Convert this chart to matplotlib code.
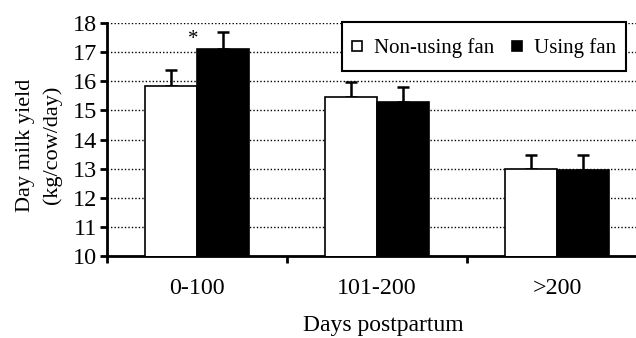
import matplotlib
matplotlib.use("Agg")
import matplotlib.pyplot as plt
from matplotlib.patches import Rectangle
from matplotlib.legend_handler import HandlerPatch
import numpy as np

categories = ["0-100", "101-200", ">200"]
non_fan = [15.82, 15.45, 12.97]
non_fan_err = [0.56, 0.54, 0.50]
fan = [17.11, 15.28, 12.95]
fan_err = [0.58, 0.52, 0.52]
yticks = [10, 11, 12, 13, 14, 15, 16, 17, 18]

plt.rcParams['font.family'] = ['Liberation Serif', 'DejaVu Serif']

fig = plt.figure(figsize=(6.36, 3.38), dpi=100)
ax = fig.add_axes([107/636, 1-256/338, (636-107)/636, (256-23)/338])

x = np.arange(len(categories))
w = 0.289
ekw = dict(elinewidth=1.8, capthick=1.8, capsize=4, ecolor='black')
b1 = ax.bar(x - w/2, non_fan, w, color='white', edgecolor='black', linewidth=1.2,
            label='Non-using fan', zorder=3)
ax.errorbar(x - w/2, non_fan, yerr=[np.zeros(3), non_fan_err], fmt='none', zorder=2, **ekw)
b2 = ax.bar(x + w/2, fan, w, color='black', edgecolor='black', linewidth=1.2,
            label='Using fan', zorder=3)
ax.errorbar(x + w/2, fan, yerr=[np.zeros(3), fan_err], fmt='none', zorder=2, **ekw)

ax.text(x[0] - 0.022, 17.45, '*', ha='center', va='center', fontsize=15)

ax.set_ylim(10, 18)
ax.set_xlim(-0.5, -0.5 + (636-107)/180)
ax.set_yticks(yticks)
ax.set_yticklabels([str(t) for t in yticks], fontsize=17.5)
ax.yaxis.grid(True, linestyle=(0, (1, 1.5)), color='black', linewidth=1.0, zorder=0)
ax.set_axisbelow(True)

ax.set_xticks([-0.5, 0.5, 1.5])
ax.set_xticklabels([])
ax.tick_params(axis='x', direction='out', length=5, width=2)
ax.tick_params(axis='y', direction='out', length=5, width=2, pad=2)
for i, c in enumerate(categories):
    ax.text(i, 8.9, c, ha='center', va='center', fontsize=17.3, transform=ax.transData)

ax.spines['top'].set_visible(False)
ax.spines['right'].set_visible(False)
ax.spines['left'].set_linewidth(2)
ax.spines['bottom'].set_linewidth(2)

fig.text(39/636, 1-145/338, 'Day milk yield\n(kg/cow/day)', rotation=90, ha='center', va='center',
         fontsize=16, linespacing=1.45)
fig.text(383/636, 1-325/338, 'Days postpartum', ha='center', va='center', fontsize=17)


def small_square(legend, orig_handle, xdescent, ydescent, width, height, fontsize):
    s = 10 * 72 / 100  # 10 px in points
    return Rectangle((-xdescent + (width - s) / 2, -ydescent + (height - s) / 2), s, s)


h1, h2 = b1.patches[0], b2.patches[0]
hp = HandlerPatch(patch_func=small_square)
leg = ax.legend(handles=[h1, h2], labels=['Non-using fan', 'Using fan'], loc='upper left',
                bbox_to_anchor=((342-107)/529, 1.0 + 1/233), ncol=2,
                fontsize=15, frameon=True, fancybox=False, edgecolor='black',
                handlelength=0.48, handleheight=1.7, handletextpad=0.58,
                columnspacing=0.82, borderpad=0.5, borderaxespad=0,
                handler_map={h1: hp, h2: hp})
leg.get_frame().set_linewidth(1.5)
leg.get_frame().set_alpha(1)

fig.savefig('out.png', dpi=100)
